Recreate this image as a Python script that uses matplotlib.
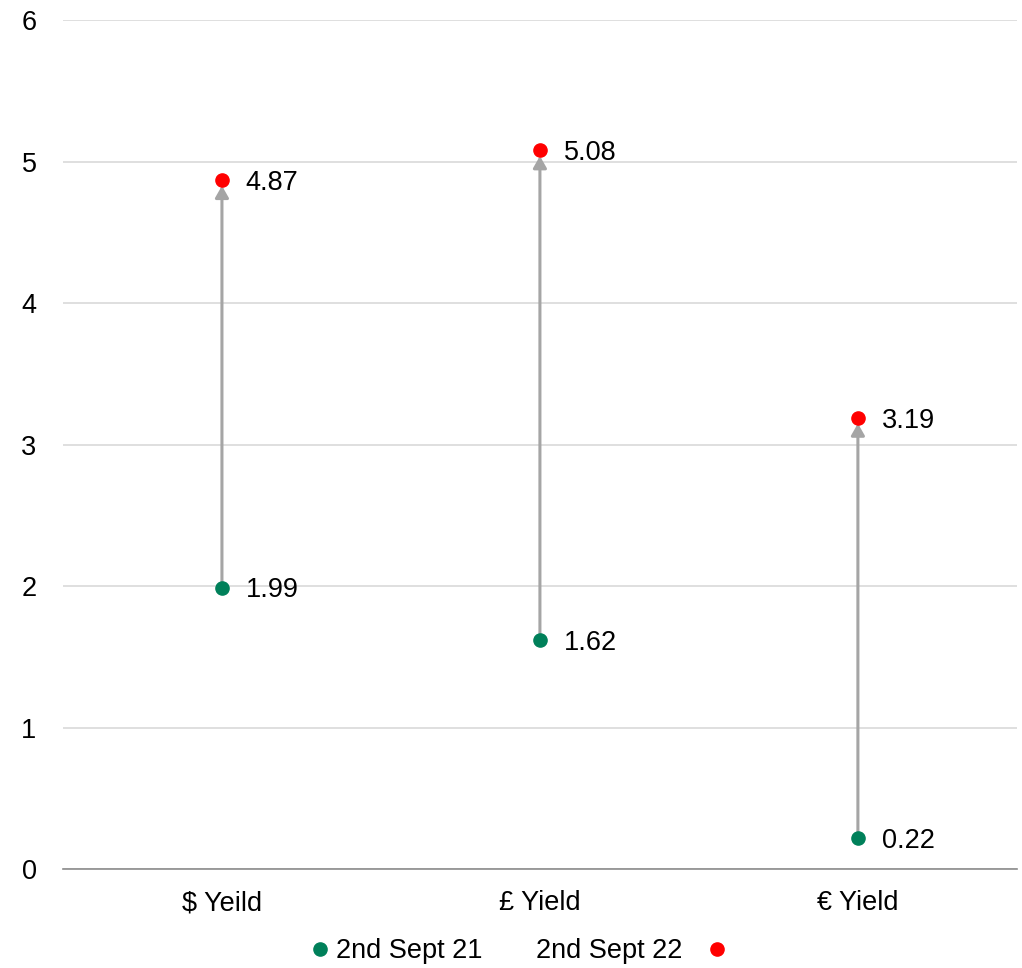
import matplotlib.pyplot as plt
from matplotlib.lines import Line2D

plt.rcParams['font.family'] = ['Liberation Sans', 'DejaVu Sans']

categories = ['$ Yeild', '£ Yield', '€ Yield']
sept_21 = [1.99, 1.62, 0.22]
sept_22 = [4.87, 5.08, 3.19]
label_21 = '2nd Sept 21'
label_22 = '2nd Sept 22'

green = '#00805A'
red = '#FF0000'
arrow_grey = '#A5A5A5'
fs = 19.5

fig = plt.figure(figsize=(10.22, 9.68), dpi=100)
ax = fig.add_axes([0.0616, 0.102, 0.9334, 0.877])

x = [i + 0.5 for i in range(len(categories))]

# arrows from last year to this year
for xi, a, b in zip(x, sept_21, sept_22):
    ax.annotate('', xy=(xi, b), xytext=(xi, a),
                arrowprops=dict(arrowstyle='-|>,head_length=0.7,head_width=0.4',
                                color=arrow_grey, lw=2.2, shrinkA=0, shrinkB=4),
                zorder=2)

ax.plot(x, sept_21, 'o', color=green, ms=9.5, zorder=3, label=label_21)
ax.plot(x, sept_22, 'o', color=red, ms=9.5, zorder=3, label=label_22)

for xi, a, b in zip(x, sept_21, sept_22):
    ax.annotate(f'{a:.2f}', (xi, a), xytext=(17, -2), textcoords='offset points',
                va='center', ha='left', fontsize=fs)
    ax.annotate(f'{b:.2f}', (xi, b), xytext=(17, -2), textcoords='offset points',
                va='center', ha='left', fontsize=fs)

ax.set_xlim(0, len(categories))
ax.set_ylim(0, 6)
ax.set_xticks(x)
ax.set_xticklabels(categories, fontsize=fs)
ax.set_yticks(range(7))
ax.tick_params(axis='both', length=0, labelsize=fs)
ax.tick_params(axis='x', pad=15)
ax.tick_params(axis='y', pad=19)
ax.grid(axis='y', color='#D9D9D9', lw=1.2)
ax.set_axisbelow(True)
for s in ['top', 'right', 'left']:
    ax.spines[s].set_visible(False)
ax.spines['bottom'].set_color('#8C8C8C')
ax.spines['bottom'].set_linewidth(1.2)

# legend: marker before first label, after second (as in the original)
h21 = Line2D([], [], marker='o', ls='', color=green, ms=9.5)
h22 = Line2D([], [], marker='o', ls='', color=red, ms=9.5)
fig.legend([h21], [label_21], loc='center', bbox_to_anchor=(0.385, 0.0175),
           frameon=False, fontsize=fs, handletextpad=0.0, handlelength=1.2)
fig.legend([h22], [label_22], loc='center', bbox_to_anchor=(0.621, 0.0175),
           frameon=False, fontsize=fs, markerfirst=False,
           handletextpad=0.7, handlelength=1.2)

fig.savefig('out.png', dpi=100)
